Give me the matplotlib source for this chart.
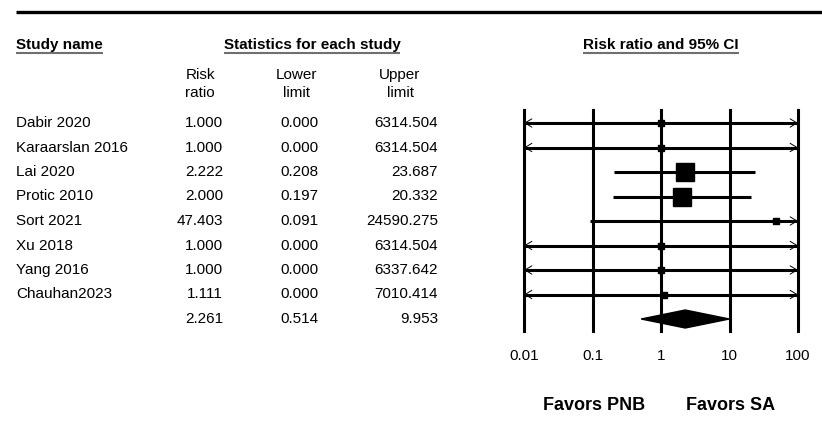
import matplotlib
matplotlib.use('Agg')
import matplotlib.pyplot as plt
from matplotlib.patches import Polygon

plt.rcParams['font.family'] = ['Liberation Sans', 'DejaVu Sans']

# data
studies = ['Dabir 2020', 'Karaarslan 2016', 'Lai 2020', 'Protic 2010', 'Sort 2021',
           'Xu 2018', 'Yang 2016', 'Chauhan2023']
rr = [1.000, 1.000, 2.222, 2.000, 47.403, 1.000, 1.000, 1.111]
lower = [0.000, 0.000, 0.208, 0.197, 0.091, 0.000, 0.000, 0.000]
upper = [6314.504, 6314.504, 23.687, 20.332, 24590.275, 6314.504, 6337.642, 7010.414]
weight = [0.5, 0.5, 13, 13, 1, 0.5, 0.5, 0.5]   # relative box size
pooled = [2.261, 0.514, 9.953]
ticks = [0.01, 0.1, 1, 10, 100]
tick_labels = ['0.01', '0.1', '1', '10', '100']

W, H = 822, 437
fig = plt.figure(figsize=(W / 100, H / 100), dpi=100)
bg = fig.add_axes([0, 0, 1, 1])
bg.set_xlim(0, W)
bg.set_ylim(H, 0)
bg.axis('off')

row0, step = 123, 24.5
fs = 11

# top rule
bg.plot([16, W], [11.5, 11.5], color='black', lw=2.4, solid_capstyle='butt')

# headers
h1 = bg.text(16, 45, 'Study name', fontsize=fs, fontweight='bold', va='center', ha='left')
h2 = bg.text(312, 45, 'Statistics for each study', fontsize=fs, fontweight='bold', va='center', ha='center')
h3 = bg.text(661, 45, 'Risk ratio and 95% CI', fontsize=fs, fontweight='bold', va='center', ha='center')
for x, s in [(200, 'Risk\nratio'), (296, 'Lower\nlimit'), (400, 'Upper\nlimit')]:
    bg.text(x, 84, s, fontsize=fs, ha='center', va='center', multialignment='center',
            linespacing=1.45)

# table rows
for i in range(len(studies)):
    y = row0 + step * i
    bg.text(16, y, studies[i], fontsize=fs, va='center', ha='left')
    bg.text(223, y, '%.3f' % rr[i], fontsize=fs, va='center', ha='right')
    bg.text(318, y, '%.3f' % lower[i], fontsize=fs, va='center', ha='right')
    bg.text(438, y, '%.3f' % upper[i], fontsize=fs, va='center', ha='right')
yp = row0 + step * len(studies)
bg.text(223, yp, '%.3f' % pooled[0], fontsize=fs, va='center', ha='right')
bg.text(318, yp, '%.3f' % pooled[1], fontsize=fs, va='center', ha='right')
bg.text(438, yp, '%.3f' % pooled[2], fontsize=fs, va='center', ha='right')

# favors labels
bg.text(594, 405, 'Favors PNB', fontsize=13, fontweight='bold', ha='center', va='center')
bg.text(731, 405, 'Favors SA', fontsize=13, fontweight='bold', ha='center', va='center')

# forest axes
x0, x1, ytop, ybot = 524, 798, 110, 331
ax = fig.add_axes([x0 / W, 1 - ybot / H, (x1 - x0) / W, (ybot - ytop) / H])
ax.set_xscale('log')
ax.set_xlim(ticks[0], ticks[-1])
ax.set_ylim((ybot - row0) / step, (ytop - row0) / step)
for s in ax.spines.values():
    s.set_visible(False)
ax.set_yticks([])
ax.set_xticks(ticks)
ax.set_xticklabels(tick_labels)
ax.minorticks_off()
ax.tick_params(axis='x', length=0, pad=13, labelsize=fs)
ax.patch.set_alpha(0)

for t in ticks:
    ax.axvline(t, color='black', lw=2.2, clip_on=False, zorder=1)

lo_lim, hi_lim = ticks[0], ticks[-1]
for i in range(len(studies)):
    lo = max(lower[i], lo_lim)
    hi = min(upper[i], hi_lim)
    ax.plot([lo, hi], [i, i], color='black', lw=2.2, clip_on=False, zorder=2,
            solid_capstyle='butt')
    if lower[i] < lo_lim:
        ax.annotate('', xy=(lo_lim, i), xytext=(lo_lim * 1.4, i),
                    arrowprops=dict(arrowstyle='->,head_length=0.5,head_width=0.3',
                                    lw=0.7, color='black', shrinkA=0, shrinkB=0),
                    annotation_clip=False)
    if upper[i] > hi_lim:
        ax.annotate('', xy=(hi_lim, i), xytext=(hi_lim / 1.4, i),
                    arrowprops=dict(arrowstyle='->,head_length=0.5,head_width=0.3',
                                    lw=0.7, color='black', shrinkA=0, shrinkB=0),
                    annotation_clip=False)
    ms = 4.3 + (weight[i] - 0.5) * 0.7
    ax.plot(rr[i], i, marker='s', ms=ms, color='black', zorder=3, clip_on=False)

# pooled diamond
n = len(studies)
hd = 9 / step
ax.add_patch(Polygon([(pooled[1], n), (pooled[0], n - hd), (pooled[2], n), (pooled[0], n + hd)],
                     closed=True, facecolor='black', edgecolor='black', zorder=3, clip_on=False))

# underline headers
fig.canvas.draw()
r = fig.canvas.get_renderer()
inv = bg.transData.inverted()
for t in (h1, h2, h3):
    bb = t.get_window_extent(r)
    (a, _), (b, _) = inv.transform([(bb.x0, bb.y0), (bb.x1, bb.y0)])
    bg.plot([a, b], [52.5, 52.5], color='#707070', lw=1.5, solid_capstyle='butt')

fig.savefig('out.png', dpi=100)
